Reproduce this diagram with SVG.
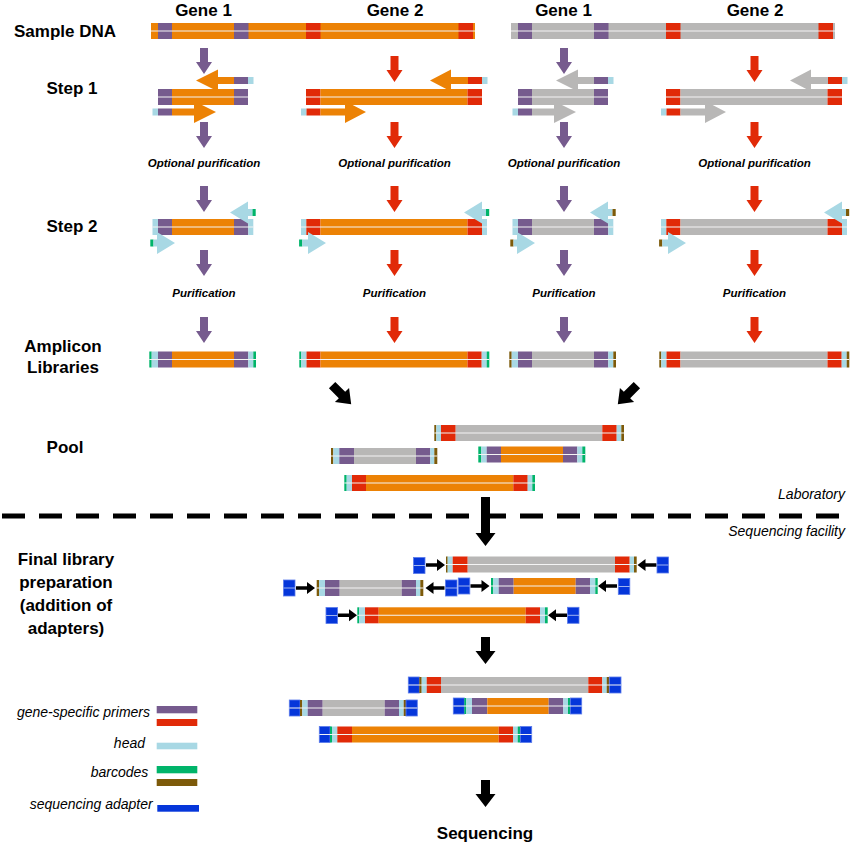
<svg xmlns="http://www.w3.org/2000/svg" width="851" height="847" viewBox="0 0 851 847">
<style>
.o{fill:#EC8205}.p{fill:#765B8E}.r{fill:#E12A08}.g{fill:#B8B7B6}.h{fill:#A8D8E4}.c{fill:#00B46A}.b{fill:#7D5A0A}
.a{fill:#0536DA;stroke:#5A7BEA;stroke-width:0.8}
.s{stroke:#F4F4F4;stroke-width:1.1}
.k{fill:#000}
.t1{font-family:"Liberation Sans",Arial,sans-serif;font-weight:bold;font-size:17px;fill:#000}
.t2{font-family:"Liberation Sans",Arial,sans-serif;font-weight:bold;font-style:italic;font-size:11.5px;fill:#000}
.t3{font-family:"Liberation Sans",Arial,sans-serif;font-style:italic;font-size:14px;fill:#000}
</style>
<defs>
<path id="pa" d="M-4,0 h8 v14 h4 l-8,12 l-8,-12 h4 z"/>
<g id="ad"><rect class="a" x="0" y="0" width="11.5" height="16"/><line x1="0" x2="11.5" y1="8" y2="8" stroke="#9fb3f0" stroke-width="1"/></g>
<path id="sr" d="M0,-1.7 h11 v-4.3 l8,6 l-8,6 v-4.3 h-11 z"/>
<path id="sl" d="M0,-1.7 h-11 v-4.3 l-8,6 l8,6 v-4.3 h11 z"/>
</defs>

<!-- labels -->
<g id="labels">
<text class="t1" x="203.5" y="16" text-anchor="middle">Gene 1</text>
<text class="t1" x="395" y="16" text-anchor="middle">Gene 2</text>
<text class="t1" x="563.5" y="16" text-anchor="middle">Gene 1</text>
<text class="t1" x="755" y="16" text-anchor="middle">Gene 2</text>
<text class="t1" x="14" y="37">Sample DNA</text>
<text class="t1" x="72" y="94" text-anchor="middle">Step 1</text>
<text class="t1" x="72" y="232" text-anchor="middle">Step 2</text>
<text class="t1" x="63" y="352" text-anchor="middle">Amplicon</text>
<text class="t1" x="63" y="373" text-anchor="middle">Libraries</text>
<text class="t1" x="65" y="453" text-anchor="middle">Pool</text>
<text class="t1" x="66" y="565" text-anchor="middle">Final library</text>
<text class="t1" x="66" y="588" text-anchor="middle">preparation</text>
<text class="t1" x="66" y="611" text-anchor="middle">(addition of</text>
<text class="t1" x="66" y="634" text-anchor="middle">adapters)</text>
<text class="t1" x="485" y="839" text-anchor="middle">Sequencing</text>
<text class="t2" x="204" y="167" text-anchor="middle">Optional purification</text>
<text class="t2" x="394.5" y="167" text-anchor="middle">Optional purification</text>
<text class="t2" x="564" y="167" text-anchor="middle">Optional purification</text>
<text class="t2" x="754.5" y="167" text-anchor="middle">Optional purification</text>
<text class="t2" x="204" y="297" text-anchor="middle">Purification</text>
<text class="t2" x="394.5" y="297" text-anchor="middle">Purification</text>
<text class="t2" x="564" y="297" text-anchor="middle">Purification</text>
<text class="t2" x="754.5" y="297" text-anchor="middle">Purification</text>
<text class="t3" x="845" y="499" text-anchor="end">Laboratory</text>
<text class="t3" x="845" y="536" text-anchor="end">Sequencing facility</text>
</g>

<!-- Sample DNA -->
<g id="sample-orange" transform="translate(0,23)">
<rect class="o" x="151" y="0" width="324" height="16"/>
<rect class="p" x="158" y="0" width="14" height="16"/><rect class="p" x="234" y="0" width="14.5" height="16"/>
<rect class="r" x="306" y="0" width="14.5" height="16"/><rect class="r" x="458.5" y="0" width="14.5" height="16"/>
<line class="s" x1="151" x2="475" y1="8" y2="8"/>
</g>
<g id="sample-grey" transform="translate(0,23)">
<rect class="g" x="511" y="0" width="324" height="16"/>
<rect class="p" x="518" y="0" width="14" height="16"/><rect class="p" x="594" y="0" width="14.5" height="16"/>
<rect class="r" x="666" y="0" width="14.5" height="16"/><rect class="r" x="818.5" y="0" width="14.5" height="16"/>
<line class="s" x1="511" x2="835" y1="8" y2="8"/>
</g>

<!-- Step 1 -->
<g id="s1-o1">
<g transform="translate(0,89)"><rect class="p" x="158" y="0" width="14" height="16"/><rect class="o" x="172" y="0" width="62" height="16"/><rect class="p" x="234" y="0" width="14" height="16"/><line class="s" x1="158" x2="248" y1="8" y2="8"/></g>
<path class="o" d="M196,80.5 L218,69.5 L218,77 L234,77 L234,84 L218,84 L218,91.5 Z"/><rect class="p" x="234" y="77" width="14" height="7"/><rect class="h" x="248" y="77" width="5.5" height="7"/>
<rect class="h" x="152.5" y="108.5" width="5.5" height="7"/><rect class="p" x="158" y="108.5" width="14" height="7"/>
<path class="o" d="M172,108.5 L194,108.5 L194,101 L216,112 L194,123 L194,115.5 L172,115.5 Z"/>
</g>
<g id="s1-o2">
<g transform="translate(0,89)"><rect class="r" x="306" y="0" width="14.5" height="16"/><rect class="o" x="320.5" y="0" width="147" height="16"/><rect class="r" x="467.5" y="0" width="14.5" height="16"/><line class="s" x1="306" x2="482" y1="8" y2="8"/></g>
<path class="o" d="M430,80.5 L451,69.5 L451,77 L468,77 L468,84 L451,84 L451,91.5 Z"/><rect class="r" x="468" y="77" width="14" height="7"/><rect class="h" x="482" y="77" width="5.5" height="7"/>
<rect class="h" x="301" y="108.5" width="5.5" height="7"/><rect class="r" x="306.5" y="108.5" width="14" height="7"/>
<path class="o" d="M320.5,108.5 L345,108.5 L345,101 L366,112 L345,123 L345,115.5 L320.5,115.5 Z"/>
</g>
<g id="s1-g1">
<g transform="translate(0,89)"><rect class="p" x="518" y="0" width="14" height="16"/><rect class="g" x="532" y="0" width="62" height="16"/><rect class="p" x="594" y="0" width="14" height="16"/><line class="s" x1="518" x2="608" y1="8" y2="8"/></g>
<path class="g" d="M556,80.5 L578,69.5 L578,77 L594,77 L594,84 L578,84 L578,91.5 Z"/><rect class="p" x="594" y="77" width="14" height="7"/><rect class="h" x="608" y="77" width="5.5" height="7"/>
<rect class="h" x="512.5" y="108.5" width="5.5" height="7"/><rect class="p" x="518" y="108.5" width="14" height="7"/>
<path class="g" d="M532,108.5 L554,108.5 L554,101 L576,112 L554,123 L554,115.5 L532,115.5 Z"/>
</g>
<g id="s1-g2">
<g transform="translate(0,89)"><rect class="r" x="666" y="0" width="14.5" height="16"/><rect class="g" x="680.5" y="0" width="147" height="16"/><rect class="r" x="827.5" y="0" width="14.5" height="16"/><line class="s" x1="666" x2="842" y1="8" y2="8"/></g>
<path class="g" d="M790,80.5 L811,69.5 L811,77 L828,77 L828,84 L811,84 L811,91.5 Z"/><rect class="r" x="828" y="77" width="14" height="7"/><rect class="h" x="842" y="77" width="5.5" height="7"/>
<rect class="h" x="661" y="108.5" width="5.5" height="7"/><rect class="r" x="666.5" y="108.5" width="14" height="7"/>
<path class="g" d="M680.5,108.5 L705,108.5 L705,101 L726,112 L705,123 L705,115.5 L680.5,115.5 Z"/>
</g>

<!-- Step 2 -->
<g id="s2-o1">
<g transform="translate(0,219)"><rect class="h" x="152.5" y="0" width="5.5" height="16"/><rect class="p" x="158" y="0" width="14" height="16"/><rect class="o" x="172" y="0" width="62" height="16"/><rect class="p" x="234" y="0" width="14.3" height="16"/><rect class="h" x="248.3" y="0" width="5" height="16"/><line class="s" x1="152.5" x2="253.3" y1="8" y2="8"/></g>
<path class="h" d="M230,212.5 L248,201.5 L248,209 L252.5,209 L252.5,216 L248,216 L248,223.5 Z"/><rect class="c" x="252.5" y="209" width="3.2" height="7"/>
<rect class="c" x="150.3" y="239.5" width="3.2" height="7"/><path class="h" d="M153.5,239.5 L157,239.5 L157,232 L175,243 L157,254 L157,246.5 L153.5,246.5 Z"/>
</g>
<g id="s2-o2">
<g transform="translate(0,219)"><rect class="h" x="301" y="0" width="5.3" height="16"/><rect class="r" x="306.3" y="0" width="14.2" height="16"/><rect class="o" x="320.5" y="0" width="147" height="16"/><rect class="r" x="467.5" y="0" width="14.5" height="16"/><rect class="h" x="482" y="0" width="5" height="16"/><line class="s" x1="301" x2="487" y1="8" y2="8"/></g>
<path class="h" d="M464,212.5 L482,201.5 L482,209 L486,209 L486,216 L482,216 L482,223.5 Z"/><rect class="c" x="486" y="209" width="3.2" height="7"/>
<rect class="c" x="299.1" y="239.5" width="3.2" height="7"/><path class="h" d="M302.3,239.5 L308,239.5 L308,232 L326,243 L308,254 L308,246.5 L302.3,246.5 Z"/>
</g>
<g id="s2-g1">
<g transform="translate(0,219)"><rect class="h" x="512.5" y="0" width="5.5" height="16"/><rect class="p" x="518" y="0" width="14" height="16"/><rect class="g" x="532" y="0" width="62" height="16"/><rect class="p" x="594" y="0" width="14.3" height="16"/><rect class="h" x="608.3" y="0" width="5" height="16"/><line class="s" x1="512.5" x2="613.3" y1="8" y2="8"/></g>
<path class="h" d="M590,212.5 L608,201.5 L608,209 L612.5,209 L612.5,216 L608,216 L608,223.5 Z"/><rect class="b" x="612.5" y="209" width="3.2" height="7"/>
<rect class="b" x="510.3" y="239.5" width="3.2" height="7"/><path class="h" d="M513.5,239.5 L517,239.5 L517,232 L535,243 L517,254 L517,246.5 L513.5,246.5 Z"/>
</g>
<g id="s2-g2">
<g transform="translate(0,219)"><rect class="h" x="661" y="0" width="5.3" height="16"/><rect class="r" x="666.3" y="0" width="14.2" height="16"/><rect class="g" x="680.5" y="0" width="147" height="16"/><rect class="r" x="827.5" y="0" width="14.5" height="16"/><rect class="h" x="842" y="0" width="5" height="16"/><line class="s" x1="661" x2="847" y1="8" y2="8"/></g>
<path class="h" d="M824,212.5 L842,201.5 L842,209 L846,209 L846,216 L842,216 L842,223.5 Z"/><rect class="b" x="846" y="209" width="3.2" height="7"/>
<rect class="b" x="659.1" y="239.5" width="3.2" height="7"/><path class="h" d="M662.3,239.5 L668,239.5 L668,232 L686,243 L668,254 L668,246.5 L662.3,246.5 Z"/>
</g>

<!-- Amplicon libraries -->
<g id="lib-o1" transform="translate(0,351.5)"><rect class="c" x="149.3" y="0" width="2.4" height="16"/><rect class="h" x="151.7" y="0" width="6.3" height="16"/><rect class="p" x="158" y="0" width="14" height="16"/><rect class="o" x="172" y="0" width="62" height="16"/><rect class="p" x="234" y="0" width="14.3" height="16"/><rect class="h" x="248.3" y="0" width="5" height="16"/><rect class="c" x="253.3" y="0" width="2.7" height="16"/><line class="s" x1="149.3" x2="256" y1="8" y2="8"/></g>
<g id="lib-o2" transform="translate(0,351.5)"><rect class="c" x="299.3" y="0" width="2" height="16"/><rect class="h" x="301.3" y="0" width="5.2" height="16"/><rect class="r" x="306.5" y="0" width="14" height="16"/><rect class="o" x="320.5" y="0" width="147" height="16"/><rect class="r" x="467.5" y="0" width="14.2" height="16"/><rect class="h" x="481.7" y="0" width="5" height="16"/><rect class="c" x="486.7" y="0" width="2.6" height="16"/><line class="s" x1="299.3" x2="489.3" y1="8" y2="8"/></g>
<g id="lib-g1" transform="translate(0,351.5)"><rect class="b" x="509.3" y="0" width="2.4" height="16"/><rect class="h" x="511.7" y="0" width="6.3" height="16"/><rect class="p" x="518" y="0" width="14" height="16"/><rect class="g" x="532" y="0" width="62" height="16"/><rect class="p" x="594" y="0" width="14.3" height="16"/><rect class="h" x="608.3" y="0" width="5" height="16"/><rect class="b" x="613.3" y="0" width="2.7" height="16"/><line class="s" x1="509.3" x2="616" y1="8" y2="8"/></g>
<g id="lib-g2" transform="translate(0,351.5)"><rect class="b" x="659.3" y="0" width="2" height="16"/><rect class="h" x="661.3" y="0" width="5.2" height="16"/><rect class="r" x="666.5" y="0" width="14" height="16"/><rect class="g" x="680.5" y="0" width="147" height="16"/><rect class="r" x="827.5" y="0" width="14.2" height="16"/><rect class="h" x="841.7" y="0" width="5" height="16"/><rect class="b" x="846.7" y="0" width="2.6" height="16"/><line class="s" x1="659.3" x2="849.3" y1="8" y2="8"/></g>

<!-- Pool -->
<g id="pool-g2" transform="translate(0,425)"><rect class="b" x="434.3" y="0" width="2" height="16"/><rect class="h" x="436.3" y="0" width="4.7" height="16"/><rect class="r" x="441" y="0" width="14.7" height="16"/><rect class="g" x="455.7" y="0" width="146.6" height="16"/><rect class="r" x="602.3" y="0" width="14.4" height="16"/><rect class="h" x="616.7" y="0" width="4.6" height="16"/><rect class="b" x="621.3" y="0" width="2.7" height="16"/><line class="s" x1="434.3" x2="624" y1="8" y2="8"/></g>
<g id="pool-g1" transform="translate(0,448)"><rect class="b" x="331" y="0" width="2.3" height="16"/><rect class="h" x="333.3" y="0" width="6" height="16"/><rect class="p" x="339.3" y="0" width="14.7" height="16"/><rect class="g" x="354" y="0" width="62" height="16"/><rect class="p" x="416" y="0" width="14.3" height="16"/><rect class="h" x="430.3" y="0" width="4" height="16"/><rect class="b" x="434.3" y="0" width="3" height="16"/><line class="s" x1="331" x2="437.3" y1="8" y2="8"/></g>
<g id="pool-o1" transform="translate(0,446.5)"><rect class="c" x="478.3" y="0" width="3" height="16"/><rect class="h" x="481.3" y="0" width="5.4" height="16"/><rect class="p" x="486.7" y="0" width="14.3" height="16"/><rect class="o" x="501" y="0" width="62" height="16"/><rect class="p" x="563" y="0" width="14.3" height="16"/><rect class="h" x="577.3" y="0" width="5" height="16"/><rect class="c" x="582.3" y="0" width="3" height="16"/><line class="s" x1="478.3" x2="585.3" y1="8" y2="8"/></g>
<g id="pool-o2" transform="translate(0,475)"><rect class="c" x="344.3" y="0" width="2.4" height="16"/><rect class="h" x="346.7" y="0" width="5.3" height="16"/><rect class="r" x="352" y="0" width="14" height="16"/><rect class="o" x="366" y="0" width="147.3" height="16"/><rect class="r" x="513.3" y="0" width="14.4" height="16"/><rect class="h" x="527.7" y="0" width="4.6" height="16"/><rect class="c" x="532.3" y="0" width="2.7" height="16"/><line class="s" x1="344.3" x2="535" y1="8" y2="8"/></g>

<!-- Final library preparation -->
<g id="flp-g2">
<use href="#ad" x="413.5" y="557.5"/>
<use href="#sr" x="426" y="565" class="k"/>
<g transform="translate(0,556.5)"><rect class="b" x="446" y="0" width="1.7" height="16"/><rect class="h" x="447.7" y="0" width="5" height="16"/><rect class="r" x="452.7" y="0" width="15" height="16"/><rect class="g" x="467.7" y="0" width="147.3" height="16"/><rect class="r" x="615" y="0" width="14.7" height="16"/><rect class="h" x="629.7" y="0" width="4.3" height="16"/><rect class="b" x="634" y="0" width="2.7" height="16"/><line class="s" x1="446" x2="636.7" y1="8" y2="8"/></g>
<use href="#sl" x="656.5" y="565" class="k"/>
<use href="#ad" x="657" y="557"/>
</g>
<g id="flp-g1">
<use href="#ad" x="283.5" y="580"/>
<use href="#sr" x="296" y="588" class="k"/>
<g transform="translate(0,580)"><rect class="b" x="316.7" y="0" width="2.3" height="16"/><rect class="h" x="319" y="0" width="6" height="16"/><rect class="p" x="325" y="0" width="14.7" height="16"/><rect class="g" x="339.7" y="0" width="62" height="16"/><rect class="p" x="401.7" y="0" width="14.3" height="16"/><rect class="h" x="416" y="0" width="4.3" height="16"/><rect class="b" x="420.3" y="0" width="3" height="16"/><line class="s" x1="316.7" x2="423.3" y1="8" y2="8"/></g>
<use href="#sl" x="444.5" y="588" class="k"/>
<use href="#ad" x="445.5" y="580"/>
</g>
<g id="flp-o1">
<use href="#ad" x="458.3" y="578"/>
<use href="#sr" x="470.5" y="586" class="k"/>
<g transform="translate(0,578)"><rect class="c" x="491" y="0" width="2.3" height="16"/><rect class="h" x="493.3" y="0" width="5.4" height="16"/><rect class="p" x="498.7" y="0" width="15" height="16"/><rect class="o" x="513.7" y="0" width="62" height="16"/><rect class="p" x="575.7" y="0" width="14.3" height="16"/><rect class="h" x="590" y="0" width="5.3" height="16"/><rect class="c" x="595.3" y="0" width="2.4" height="16"/><line class="s" x1="491" x2="597.7" y1="8" y2="8"/></g>
<use href="#sl" x="617" y="586" class="k"/>
<use href="#ad" x="618.3" y="578.5"/>
</g>
<g id="flp-o2">
<use href="#ad" x="326" y="607.5"/>
<use href="#sr" x="338" y="615.3" class="k"/>
<g transform="translate(0,607.3)"><rect class="c" x="357.3" y="0" width="2" height="16"/><rect class="h" x="359.3" y="0" width="5.7" height="16"/><rect class="r" x="365" y="0" width="13.7" height="16"/><rect class="o" x="378.7" y="0" width="147" height="16"/><rect class="r" x="525.7" y="0" width="14.3" height="16"/><rect class="h" x="540" y="0" width="5" height="16"/><rect class="c" x="545" y="0" width="2.7" height="16"/><line class="s" x1="357.3" x2="547.7" y1="8" y2="8"/></g>
<use href="#sl" x="567" y="615.3" class="k"/>
<use href="#ad" x="567.5" y="607.3"/>
</g>

<!-- Final adapted library -->
<g id="fin-g2" transform="translate(0,677)"><rect class="a" x="408.3" y="0" width="11" height="16"/><rect class="b" x="419.3" y="0" width="2.4" height="16"/><rect class="h" x="421.7" y="0" width="5" height="16"/><rect class="r" x="426.7" y="0" width="14.3" height="16"/><rect class="g" x="441" y="0" width="147.3" height="16"/><rect class="r" x="588.3" y="0" width="14" height="16"/><rect class="h" x="602.3" y="0" width="4.4" height="16"/><rect class="b" x="606.7" y="0" width="2.6" height="16"/><rect class="a" x="609.3" y="0" width="11.7" height="16"/><line class="s" x1="408.3" x2="621" y1="8" y2="8"/></g>
<g id="fin-g1" transform="translate(0,700)"><rect class="a" x="289.3" y="0" width="10.7" height="16"/><rect class="b" x="300" y="0" width="2.3" height="16"/><rect class="h" x="302.3" y="0" width="5.4" height="16"/><rect class="p" x="307.7" y="0" width="15" height="16"/><rect class="g" x="322.7" y="0" width="62" height="16"/><rect class="p" x="384.7" y="0" width="14.3" height="16"/><rect class="h" x="399" y="0" width="4.7" height="16"/><rect class="b" x="403.7" y="0" width="2.3" height="16"/><rect class="a" x="406" y="0" width="11.3" height="16"/><line class="s" x1="289.3" x2="417.3" y1="8" y2="8"/></g>
<g id="fin-o1" transform="translate(0,698)"><rect class="a" x="453.3" y="0" width="11" height="16"/><rect class="c" x="464.3" y="0" width="2" height="16"/><rect class="h" x="466.3" y="0" width="5.7" height="16"/><rect class="p" x="472" y="0" width="15.3" height="16"/><rect class="o" x="487.3" y="0" width="61.4" height="16"/><rect class="p" x="548.7" y="0" width="14.6" height="16"/><rect class="h" x="563.3" y="0" width="4.7" height="16"/><rect class="c" x="568" y="0" width="2.3" height="16"/><rect class="a" x="570.3" y="0" width="11.4" height="16"/><line class="s" x1="453.3" x2="581.7" y1="8" y2="8"/></g>
<g id="fin-o2" transform="translate(0,726.5)"><rect class="a" x="319.3" y="0" width="10.7" height="16"/><rect class="c" x="330" y="0" width="2" height="16"/><rect class="h" x="332" y="0" width="5.3" height="16"/><rect class="r" x="337.3" y="0" width="14.7" height="16"/><rect class="o" x="352" y="0" width="146.7" height="16"/><rect class="r" x="498.7" y="0" width="14.3" height="16"/><rect class="h" x="513" y="0" width="4.7" height="16"/><rect class="c" x="517.7" y="0" width="2.6" height="16"/><rect class="a" x="520.3" y="0" width="11.4" height="16"/><line class="s" x1="319.3" x2="531.7" y1="8" y2="8"/></g>

<!-- Legend -->
<g id="legend">
<text class="t3" x="150" y="717" text-anchor="end">gene-specific primers</text>
<rect class="p" x="156.7" y="706" width="40.6" height="7.3"/>
<rect class="r" x="156.7" y="719" width="40.6" height="7"/>
<text class="t3" x="145" y="748" text-anchor="end">head</text>
<rect class="h" x="156.7" y="742.7" width="40.6" height="6.6"/>
<text class="t3" x="148.3" y="777" text-anchor="end">barcodes</text>
<rect class="c" x="156.7" y="766" width="40.6" height="7.3"/>
<rect class="b" x="156.7" y="779" width="40.6" height="7"/>
<text class="t3" x="152.7" y="809" text-anchor="end">sequencing adapter</text>
<rect fill="#0536DA" x="157.3" y="805" width="41.7" height="6.7"/>
</g>

<!-- Divider -->
<g id="divider">
<line x1="2" x2="851" y1="516" y2="516" stroke="#000" stroke-width="5" stroke-dasharray="23,14"/>
</g>

<!-- Connectors -->
<g id="connectors">
<g class="p">
<use href="#pa" x="204" y="48"/><use href="#pa" x="564" y="48"/>
<use href="#pa" x="204" y="122"/><use href="#pa" x="564" y="122"/>
<use href="#pa" x="204" y="186"/><use href="#pa" x="564" y="186"/>
<use href="#pa" x="204" y="250"/><use href="#pa" x="564" y="250"/>
<use href="#pa" x="204" y="317"/><use href="#pa" x="564" y="317"/>
</g>
<g class="r">
<use href="#pa" x="394.5" y="56"/><use href="#pa" x="754.5" y="56"/>
<use href="#pa" x="394.5" y="122"/><use href="#pa" x="754.5" y="122"/>
<use href="#pa" x="394.5" y="186"/><use href="#pa" x="754.5" y="186"/>
<use href="#pa" x="394.5" y="250"/><use href="#pa" x="754.5" y="250"/>
<use href="#pa" x="394.5" y="317"/><use href="#pa" x="754.5" y="317"/>
</g>
<g class="k">
<path d="M-4.5,-14 h9 v14 h5.5 l-10,13 l-10,-13 h5.5 z" transform="translate(342,395) rotate(-45)"/>
<path d="M-4.5,-14 h9 v14 h5.5 l-10,13 l-10,-13 h5.5 z" transform="translate(627,395) rotate(45)"/>
<path d="M481,497 h9 v36 h5.5 l-10,13 l-10,-13 h5.5 z"/>
<path d="M481,637 h9 v14 h5.5 l-10,13 l-10,-13 h5.5 z"/>
<path d="M481,780 h9 v14 h5.5 l-10,13 l-10,-13 h5.5 z"/>
</g>
</g>
</svg>
